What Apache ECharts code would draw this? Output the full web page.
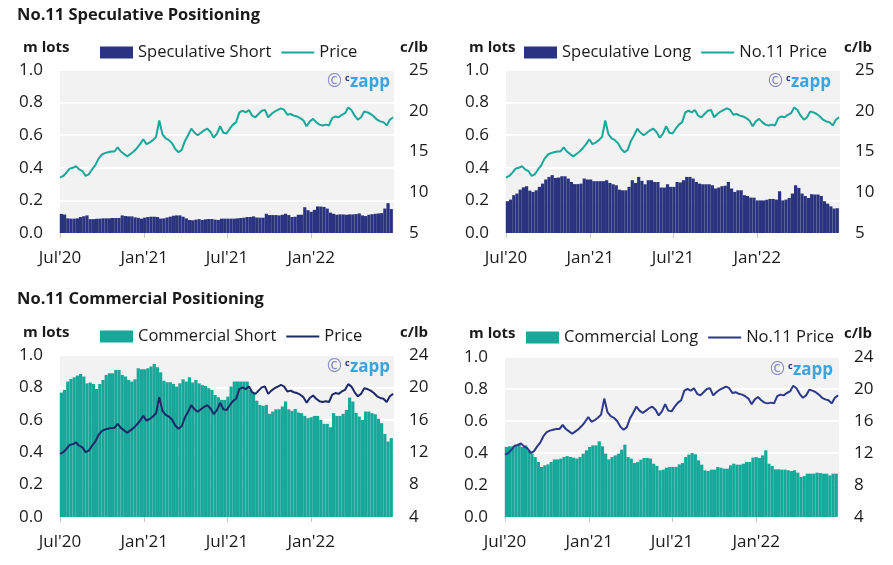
<!DOCTYPE html>
<html><head><meta charset="utf-8">
<script src="https://cdn.jsdelivr.net/npm/echarts@6/dist/echarts.min.js"></script>
<style>html,body{margin:0;padding:0;background:#fff}#c{width:893px;height:565px}</style>
</head><body><div id="c"></div><script>
// ---- data ----
const axisStart = '2020-07-01';
const axisEnd = '2022-07-01';
const tickDates = ['2020-07-01', '2021-01-01', '2021-07-01', '2022-01-01'];
const barFirstDate = '2020-07-04';   // weekly positioning reports
const priceFirstDate = '2020-07-01'; // weekly price samples

const specShort = [0.117,0.113,0.09,0.088,0.088,0.09,0.098,0.103,0.108,0.085,
0.085,0.087,0.088,0.09,0.09,0.09,0.092,0.092,0.092,0.108,
0.104,0.102,0.102,0.096,0.093,0.088,0.094,0.098,0.1,0.1,
0.098,0.088,0.09,0.095,0.1,0.106,0.108,0.108,0.1,0.09,
0.08,0.078,0.082,0.085,0.08,0.084,0.086,0.086,0.082,0.08,
0.088,0.088,0.088,0.088,0.088,0.09,0.092,0.094,0.098,0.098,
0.102,0.095,0.094,0.094,0.118,0.11,0.11,0.11,0.108,0.112,
0.118,0.11,0.098,0.1,0.112,0.112,0.158,0.14,0.13,0.142,
0.163,0.162,0.16,0.15,0.125,0.118,0.112,0.114,0.114,0.112,
0.114,0.114,0.116,0.12,0.108,0.104,0.112,0.115,0.118,0.12,
0.122,0.15,0.183,0.147];

const specLong = [0.195,0.205,0.232,0.242,0.266,0.28,0.287,0.26,0.252,0.262,
0.283,0.303,0.328,0.344,0.355,0.338,0.34,0.348,0.348,0.334,
0.313,0.3,0.3,0.303,0.334,0.328,0.328,0.318,0.318,0.318,
0.318,0.324,0.307,0.299,0.293,0.266,0.262,0.262,0.283,0.324,
0.307,0.344,0.32,0.299,0.324,0.324,0.313,0.313,0.279,0.279,
0.299,0.283,0.283,0.313,0.31,0.324,0.344,0.344,0.334,0.313,
0.303,0.299,0.299,0.299,0.293,0.273,0.279,0.287,0.29,0.313,
0.273,0.252,0.262,0.262,0.232,0.227,0.217,0.217,0.2,0.2,
0.2,0.204,0.209,0.209,0.205,0.256,0.2,0.205,0.215,0.242,
0.293,0.277,0.242,0.227,0.215,0.238,0.236,0.236,0.227,0.195,
0.18,0.164,0.15,0.152];

const commShort = [0.768,0.784,0.836,0.852,0.862,0.873,0.883,0.867,0.825,0.83,
0.821,0.79,0.821,0.846,0.877,0.887,0.887,0.908,0.908,0.877,
0.867,0.846,0.836,0.85,0.918,0.912,0.912,0.918,0.929,0.945,
0.924,0.893,0.841,0.832,0.832,0.821,0.805,0.825,0.85,0.836,
0.862,0.83,0.846,0.825,0.815,0.809,0.795,0.784,0.753,0.739,
0.723,0.723,0.743,0.805,0.836,0.836,0.836,0.836,0.836,0.784,
0.76,0.718,0.692,0.686,0.692,0.637,0.651,0.665,0.665,0.682,
0.713,0.665,0.655,0.667,0.645,0.641,0.624,0.61,0.616,0.624,
0.624,0.6,0.575,0.575,0.554,0.641,0.624,0.624,0.637,0.661,
0.737,0.713,0.643,0.62,0.6,0.651,0.651,0.641,0.634,0.606,
0.579,0.513,0.466,0.487];

const commLong = [0.4375,0.442,0.442,0.45,0.458,0.4375,0.448,0.421,0.396,0.375,
0.344,0.3125,0.323,0.329,0.344,0.36,0.36,0.365,0.375,0.381,
0.375,0.371,0.365,0.375,0.396,0.417,0.4375,0.448,0.448,0.473,
0.442,0.396,0.36,0.375,0.385,0.396,0.421,0.452,0.375,0.365,
0.3375,0.344,0.358,0.369,0.369,0.365,0.333,0.319,0.292,0.296,
0.308,0.3125,0.3125,0.3125,0.329,0.3375,0.375,0.39,0.4,0.392,
0.354,0.327,0.292,0.2875,0.296,0.296,0.3125,0.308,0.302,0.302,
0.323,0.333,0.327,0.327,0.333,0.344,0.344,0.371,0.375,0.369,
0.385,0.417,0.333,0.319,0.298,0.298,0.296,0.296,0.292,0.2875,
0.292,0.277,0.25,0.256,0.271,0.271,0.271,0.277,0.275,0.271,
0.271,0.26,0.271,0.271];

const price = [11.8,12.0,12.4,12.9,13.0,13.2,12.8,12.6,12.0,12.2,
12.8,13.3,14.1,14.6,14.8,14.9,15.0,15.0,15.5,15.0,
14.7,14.4,14.7,15.0,15.4,15.9,16.5,15.9,16.1,16.4,
16.8,18.8,17.1,16.6,16.4,16.0,15.3,14.9,15.2,16.3,
17.0,17.8,17.3,17.0,17.3,17.6,17.8,17.4,16.7,17.2,
18.1,17.3,17.2,17.8,18.3,18.6,19.8,20.0,19.8,20.1,
19.4,19.2,19.6,20.0,20.1,19.2,19.6,19.9,20.1,20.3,
20.1,19.5,19.6,19.4,19.3,19.1,18.8,18.1,18.7,19.0,
18.6,18.3,18.2,18.3,18.2,19.1,19.3,19.2,19.5,19.7,
20.4,20.1,19.4,18.9,19.2,19.9,19.8,19.6,19.3,18.9,
18.7,18.6,18.2,18.9,19.2];

// ---- helpers ----
const FONT = '"Open Sans", "Noto Sans", sans-serif';
const NAVY = '#29337f';
const TEAL = '#17a89a';
const TXT = '#1a1a1a';
const DAY = 86400000;
const T0 = Date.UTC(2020, 6, 1);
function dayNum(s) { const [y, m, d] = s.split('-').map(Number); return Math.round((Date.UTC(y, m - 1, d) - T0) / DAY); }
function weekly(start, n) { const d0 = dayNum(start); const o = []; for (let i = 0; i < n; i++) o.push(d0 + i * 7); return o; }
const barDays = weekly(barFirstDate, specShort.length);
const priceDays = weekly(priceFirstDate, price.length);
const pairs = (d, v) => v.map((y, i) => [d[i], y]);
const tickVals = tickDates.map(dayNum);
const MON = ['Jan','Feb','Mar','Apr','May','Jun','Jul','Aug','Sep','Oct','Nov','Dec'];
function fmtDay(v) { const d = new Date(T0 + v * DAY); return MON[d.getUTCMonth()] + "'" + String(d.getUTCFullYear()).slice(2); }

const grids = [
  {left: 60, top: 70, width: 334, height: 163},
  {left: 506, top: 70, width: 334, height: 163},
  {left: 60, top: 355, width: 334, height: 162},
  {left: 505, top: 357, width: 334, height: 160}
];
const panels = [
  {bar: specShort, barName: 'Speculative Short', barColor: NAVY, lineName: 'Price', lineColor: TEAL, rmin: 5, rmax: 25, rint: 5, legendLeft: 100, legendTop: 44},
  {bar: specLong, barName: 'Speculative Long', barColor: NAVY, lineName: 'No.11 Price', lineColor: TEAL, rmin: 5, rmax: 25, rint: 5, legendLeft: 524, legendTop: 44},
  {bar: commShort, barName: 'Commercial Short', barColor: TEAL, lineName: 'Price ', lineColor: '#1c2868', rmin: 4, rmax: 24, rint: 4, legendLeft: 100, legendTop: 328},
  {bar: commLong, barName: 'Commercial Long', barColor: TEAL, lineName: 'No.11 Price ', lineColor: '#2c3889', rmin: 4, rmax: 24, rint: 4, legendLeft: 526, legendTop: 329}
];

const LINE_ICON = 'path://M0,0 L33,0 L33,2.2 L0,2.2 Z';
const xAxis = [], yAxis = [], series = [], legend = [];
panels.forEach((p, i) => {
  xAxis.push({
    type: 'value', gridIndex: i, min: 0, max: dayNum(axisEnd),
    axisLine: {show: false},
    axisTick: {show: true, customValues: tickVals, length: 5, lineStyle: {color: '#c8c8c8', width: 1}},
    axisLabel: {customValues: tickVals, formatter: fmtDay, fontSize: 17, color: TXT, fontFamily: FONT, margin: 17},
    splitLine: {show: false}
  });
  yAxis.push({
    type: 'value', gridIndex: i, min: 0, max: 1, interval: 0.2, position: 'left',
    axisLine: {show: false}, axisTick: {show: false},
    axisLabel: {formatter: v => v.toFixed(1), fontSize: 17, color: TXT, fontFamily: FONT, margin: 17},
    splitLine: {show: true, lineStyle: {color: '#ffffff', width: 2}}
  });
  yAxis.push({
    type: 'value', gridIndex: i, min: p.rmin, max: p.rmax, interval: p.rint, position: 'right',
    axisLine: {show: false}, axisTick: {show: false},
    axisLabel: {fontSize: 17, color: TXT, fontFamily: FONT, margin: 15},
    splitLine: {show: false}
  });
  series.push({
    type: 'bar', name: p.barName, xAxisIndex: i, yAxisIndex: 2 * i,
    data: pairs(barDays, p.bar), barWidth: 3.2, color: p.barColor,
    itemStyle: {color: p.barColor}
  });
  series.push({
    type: 'line', name: p.lineName, xAxisIndex: i, yAxisIndex: 2 * i + 1,
    data: pairs(priceDays, price), symbol: 'none', color: p.lineColor,
    lineStyle: {color: p.lineColor, width: 2}, z: 5
  });
  legend.push({
    left: p.legendLeft, top: p.legendTop, padding: 0, itemWidth: 33, itemHeight: 12, itemGap: 10,
    symbolKeepAspect: true,
    textStyle: {fontSize: 16.5, color: TXT, fontFamily: FONT},
    selectedMode: false,
    data: [{name: p.barName, icon: 'rect', itemStyle: {color: p.barColor}},
           {name: p.lineName, icon: LINE_ICON, itemStyle: {color: p.lineColor}}]
  });
});

function label(text, x, y, size, bold) {
  return {type: 'text', x: x, y: y, silent: true,
    style: {text: text, fill: TXT, font: (bold ? 'bold ' : '') + size + 'px ' + FONT,
      textAlign: 'left', textVerticalAlign: 'middle'}};
}
function watermark(x, y) {
  return [
    {type: 'text', x: x, y: y, silent: true, style: {text: '\u00a9', fill: '#8488c0', font: '18px ' + FONT, textVerticalAlign: 'middle'}},
    {type: 'text', x: x + 18, y: y - 4, silent: true, style: {text: 'c', fill: '#29337f', font: 'bold 9px ' + FONT, textVerticalAlign: 'middle'}},
    {type: 'text', x: x + 23, y: y, silent: true, style: {text: 'zapp', fill: '#3ba4de', font: 'bold 17px ' + FONT, textVerticalAlign: 'middle'}}
  ];
}
const graphic = [
  label('No.11 Speculative Positioning', 17, 15, 16.5, true),
  label('No.11 Commercial Positioning', 17, 299, 16.5, true),
  label('m lots', 23, 48, 15, true), label('c/lb', 400, 48, 15, true),
  label('m lots', 469, 48, 15, true), label('c/lb', 844, 48, 15, true),
  label('m lots', 23, 333, 15, true), label('c/lb', 400, 333, 15, true),
  label('m lots', 469, 334, 15, true), label('c/lb', 844, 334, 15, true),
  ...watermark(327, 82), ...watermark(768, 82), ...watermark(327, 367), ...watermark(770, 370)
];

const chart = echarts.init(document.getElementById('c'), null, {renderer: 'canvas'});
chart.setOption({
  animation: false,
  backgroundColor: '#ffffff',
  grid: grids.map(g => Object.assign({show: true, backgroundColor: '#f2f2f2', borderWidth: 0, containLabel: false}, g)),
  xAxis, yAxis, series, legend, graphic
});
</script></body></html>
